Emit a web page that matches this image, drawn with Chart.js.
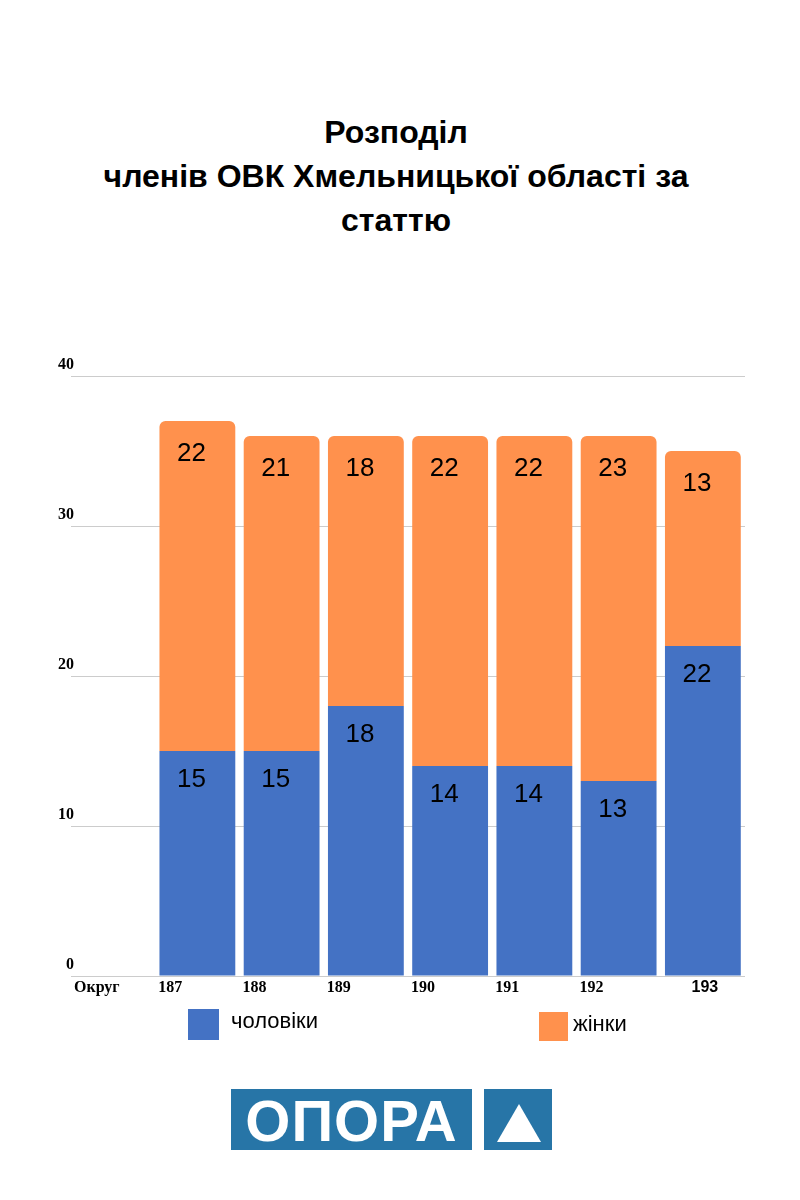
<!DOCTYPE html>
<html lang="uk">
<head>
<meta charset="utf-8">
<script src="https://cdn.jsdelivr.net/npm/chart.js@4"></script>
<style>
  body { margin: 0; background: #fff; width: 800px; height: 1200px; position: relative; font-family: "Liberation Sans", Arial, sans-serif; }
  #title { position: absolute; top: 110px; left: 0; width: 792px; text-align: center; font-weight: bold; font-size: 32px; line-height: 44px; color: #000; }
  #wrap { position: absolute; left: 0; top: 350px; width: 800px; height: 660px; }
  .leg { position: absolute; font-family: "Liberation Sans Narrow", "Liberation Sans", sans-serif; font-size: 22px; color: #000; }
  .sw { position: absolute; }
  .logo { position: absolute; background: #2775a7; }
  #opora { left: 231px; top: 1089px; width: 241px; height: 61px; color: #fff; font-weight: 900; font-size: 58px; line-height: 63px; text-align: center; font-family: "Liberation Sans", Arial, sans-serif; letter-spacing: 1px; }
  #tri { left: 484px; top: 1089px; width: 68px; height: 61px; }
  #tri div { position: absolute; left: 13px; top: 15px; width: 0; height: 0; border-left: 22px solid transparent; border-right: 22px solid transparent; border-bottom: 38px solid #fff; }
</style>
</head>
<body>
<div id="title">Розподіл<br>членів ОВК Хмельницької області за<br>статтю</div>
<div id="wrap"><canvas id="chart"></canvas></div>

<div class="sw" style="left:188px;top:1009px;width:31px;height:31px;background:#4472c4"></div>
<div class="leg" style="left:231px;top:1008px">чоловіки</div>
<div class="sw" style="left:539px;top:1012px;width:29px;height:29px;background:#ff914d"></div>
<div class="leg" style="left:573px;top:1011px">жінки</div>

<div class="logo" id="opora">ОПОРА</div>
<div class="logo" id="tri"><div></div></div>

<script>
const districts = ['Округ', '187', '188', '189', '190', '191', '192', '193'];
const men = [null, 15, 15, 18, 14, 14, 13, 22];
const women = [null, 22, 21, 18, 22, 22, 23, 13];
const yTicks = [0, 10, 20, 30, 40];

const blue = '#4472c4';
const orange = '#ff914d';

// value labels inside each bar segment
const valueLabels = {
    id: 'valueLabels',
    afterDatasetsDraw(chart) {
        const ctx = chart.ctx;
        ctx.save();
        ctx.font = '26px "Liberation Sans", Arial, sans-serif';
        ctx.fillStyle = '#000';
        ctx.textAlign = 'center';
        ctx.textBaseline = 'middle';
        chart.data.datasets.forEach((ds, di) => {
            const meta = chart.getDatasetMeta(di);
            meta.data.forEach((bar, i) => {
                if (ds.data[i] == null) return;
                const dy = di === 0 ? 29 : 33;
                ctx.fillText(String(ds.data[i]), bar.x - 6, bar.y + dy);
            });
        });
        ctx.restore();
    }
};

// axis labels: categories at the left edge of each slot, y values a bit above the gridlines
const axisLabels = {
    id: 'axisLabels',
    afterDraw(chart) {
        const ctx = chart.ctx;
        const xs = chart.scales.x;
        const ys = chart.scales.y;
        const half = (xs.getPixelForValue(1) - xs.getPixelForValue(0)) / 2;
        const bottom = chart.chartArea.bottom;
        ctx.save();
        ctx.fillStyle = '#000';
        ctx.textBaseline = 'middle';
        districts.forEach((lab, i) => {
            const px = xs.getPixelForValue(i);
            if (i === districts.length - 1) {
                ctx.font = 'bold 16px "Liberation Sans Narrow", "Liberation Sans", sans-serif';
                ctx.textAlign = 'center';
                ctx.fillText(lab, px + 2, bottom + 12);
            } else {
                ctx.font = 'bold 16px "Liberation Serif", serif';
                ctx.textAlign = 'left';
                ctx.fillText(lab, px - half + (i === 0 ? 3 : 3), bottom + 12);
            }
        });
        ctx.font = 'bold 16px "Liberation Serif", serif';
        ctx.textAlign = 'right';
        yTicks.forEach(v => {
            ctx.fillText(String(v), chart.chartArea.left + 3, ys.getPixelForValue(v) - 11);
        });
        ctx.restore();
    }
};

new Chart(document.getElementById('chart'), {
    type: 'bar',
    data: {
        labels: districts,
        datasets: [
            { label: 'чоловіки', data: men, backgroundColor: blue, borderWidth: 0 },
            { label: 'жінки', data: women, backgroundColor: orange, borderWidth: 0,
              borderRadius: { topLeft: 6, topRight: 6, bottomLeft: 0, bottomRight: 0 }, borderSkipped: 'bottom' }
        ]
    },
    options: {
        responsive: true,
        maintainAspectRatio: false,
        animation: false,
        layout: { padding: { left: 0, right: 55, top: 26, bottom: 0 } },
        plugins: {
            legend: { display: false },
            tooltip: { enabled: false }
        },
        datasets: { bar: { barPercentage: 0.9, categoryPercentage: 1 } },
        scales: {
            x: {
                stacked: true,
                grid: { display: false },
                border: { display: false },
                ticks: { display: false },
                afterFit(scale) { scale.height = 34; }
            },
            y: {
                stacked: true,
                min: 0,
                max: 40,
                afterBuildTicks(scale) { scale.ticks = yTicks.map(v => ({ value: v })); },
                grid: { color: '#cccccc', drawTicks: false, lineWidth: 1 },
                border: { display: false },
                ticks: { display: false },
                afterFit(scale) { scale.width = 71; }
            }
        }
    },
    plugins: [valueLabels, axisLabels]
});
</script>
</body>
</html>
